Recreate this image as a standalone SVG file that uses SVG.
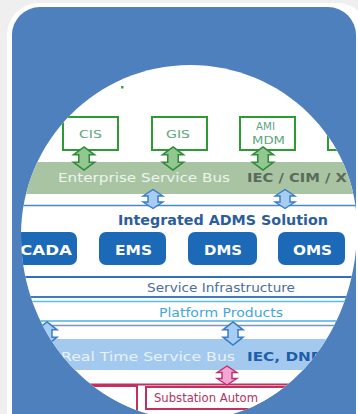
<svg xmlns="http://www.w3.org/2000/svg" width="358" height="414" viewBox="0 0 358 414">
<style>
.t{font-family:"DejaVu Sans","Liberation Sans",sans-serif}
.b{font-weight:bold}
.gbox{fill:#fff;stroke:#2e9a34;stroke-width:2}
.gtxt{fill:#5ea67e}
.bbox{fill:#1b69b7}
.btxt{fill:#fff;font-size:13.5px;font-weight:bold}
.ga{fill:#92c792;stroke:#2f8c3a;stroke-width:1.5}
.ba{fill:#a8cdf3;stroke:#3a7cc6;stroke-width:1.5}
.pa{fill:#f4a6d3;stroke:#c1306c;stroke-width:1.5}
.rbox{fill:#fff;stroke:#c2305f;stroke-width:2}
</style>
<defs>
<clipPath id="lens"><path d="M190,65 C282,65 357,138 357,228 C357,334 283,420 192,420 C97,420 21,337 21,235 C21,141 97,65 190,65 Z"/></clipPath>
<path id="dbl" d="M0,-11 L10,-3.5 L5,-3.5 L5,3.5 L10,3.5 L0,11 L-10,3.5 L-5,3.5 L-5,-3.5 L-10,-3.5 Z"/>
</defs>
<rect width="358" height="414" fill="#efefef"/>
<rect x="7" y="3" width="362" height="440" rx="32" fill="#fff"/>
<rect x="12" y="7" width="344" height="440" rx="28" fill="#4e80bd"/>
<path d="M190,65 C282,65 357,138 357,228 C357,334 283,420 192,420 C97,420 21,337 21,235 C21,141 97,65 190,65 Z" fill="#fff"/>
<g clip-path="url(#lens)">
<rect x="121" y="86" width="2.5" height="2.5" fill="#3aa63a"/>
<g id="cis"><rect class="gbox" x="63" y="117" width="55" height="33"/><text class="t gtxt" x="79" y="138" font-size="10.5" textLength="23" lengthAdjust="spacingAndGlyphs">CIS</text></g>
<g id="gis"><rect class="gbox" x="152" y="117" width="55" height="33"/><text class="t gtxt" x="166" y="138" font-size="10.5" textLength="24" lengthAdjust="spacingAndGlyphs">GIS</text></g>
<g id="ami-mdm"><rect class="gbox" x="240" y="117" width="55" height="33"/><text class="t gtxt" x="256" y="130" font-size="11" textLength="19" lengthAdjust="spacingAndGlyphs">AMI</text><text class="t gtxt" x="252" y="144" font-size="10.5" textLength="33" lengthAdjust="spacingAndGlyphs">MDM</text></g>
<g id="box4"><rect class="gbox" x="328" y="117" width="55" height="33"/></g>
<g id="esb"><rect x="0" y="162" width="358" height="32" fill="#a8c4a3"/><text class="t" x="58" y="182" font-size="12.5" fill="#eef4ec" textLength="172" lengthAdjust="spacingAndGlyphs">Enterprise Service Bus</text><text class="t b" x="247" y="182" font-size="12.5" fill="#5b6b5b" textLength="100" lengthAdjust="spacingAndGlyphs">IEC / CIM / X</text></g>
<g id="adms"><text class="t b" x="118" y="225" font-size="13.5" fill="#2d5d9c" textLength="210" lengthAdjust="spacingAndGlyphs">Integrated ADMS Solution</text></g>
<g id="scada"><rect class="bbox" x="5" y="232" width="72" height="33" rx="7"/><text class="t btxt" x="8" y="255" textLength="64" lengthAdjust="spacingAndGlyphs">SCADA</text></g>
<g id="ems"><rect class="bbox" x="99" y="232" width="67" height="33" rx="7"/><text class="t btxt" x="115" y="255" textLength="37" lengthAdjust="spacingAndGlyphs">EMS</text></g>
<g id="dms"><rect class="bbox" x="188" y="232" width="69" height="33" rx="7"/><text class="t btxt" x="204" y="255" textLength="38" lengthAdjust="spacingAndGlyphs">DMS</text></g>
<g id="oms"><rect class="bbox" x="278" y="232" width="67" height="33" rx="7"/><text class="t btxt" x="293" y="255" textLength="39" lengthAdjust="spacingAndGlyphs">OMS</text></g>
<g id="service-infra"><text class="t" x="147" y="292" font-size="13" fill="#4b6ea0" textLength="148" lengthAdjust="spacingAndGlyphs">Service Infrastructure</text></g>
<g id="platform"><text class="t" x="159" y="317" font-size="12.5" fill="#42a6de" textLength="124" lengthAdjust="spacingAndGlyphs">Platform Products</text></g>
<g id="rtsb"><rect x="0" y="339" width="358" height="31" fill="#a4c9ef"/><text class="t" x="61" y="361" font-size="13" fill="#e8f1fb" textLength="174" lengthAdjust="spacingAndGlyphs">Real Time Service Bus</text><text class="t b" x="247" y="361" font-size="13" fill="#1f5ea8" textLength="75" lengthAdjust="spacingAndGlyphs">IEC, DNP</text></g>
<g id="left-box"><rect class="rbox" x="30" y="386" width="107" height="40"/></g>
<g id="substation"><rect class="rbox" x="146" y="387" width="180" height="22"/><text class="t" x="154" y="402" font-size="11.5" fill="#b5325f" textLength="104" lengthAdjust="spacingAndGlyphs">Substation Autom</text></g>
<g id="connectors">
<line x1="0" y1="205.5" x2="358" y2="205.5" stroke="#4a86c8" stroke-width="1.5"/>
<line x1="0" y1="277" x2="358" y2="277" stroke="#2f70b8" stroke-width="2"/>
<line x1="0" y1="297" x2="358" y2="297" stroke="#3a7cc0" stroke-width="2"/>
<line x1="0" y1="301.5" x2="358" y2="301.5" stroke="#5bbde0" stroke-width="1.5"/>
<line x1="0" y1="321" x2="358" y2="321" stroke="#4ab3dd" stroke-width="1.5"/>
<line x1="0" y1="325.5" x2="358" y2="325.5" stroke="#8194b4" stroke-width="1.5"/>
<line x1="0" y1="384.5" x2="300" y2="384.5" stroke="#c2305f" stroke-width="2"/>
<use href="#dbl" class="ga" transform="translate(84,158.5) scale(1.05,1.05)"/>
<use href="#dbl" class="ga" transform="translate(173,158.5) scale(1.05,1.05)"/>
<use href="#dbl" class="ga" transform="translate(263,158.5) scale(1.05,1.05)"/>
<use href="#dbl" class="ba" transform="translate(153,199) scale(1,0.86)"/>
<use href="#dbl" class="ba" transform="translate(285,199) scale(1,0.86)"/>
<use href="#dbl" class="ba" transform="translate(47,333.5) scale(1,1.05)"/>
<use href="#dbl" class="ba" transform="translate(233,333.5) scale(1,1.05)"/>
<use href="#dbl" class="pa" transform="translate(227,375.5) scale(1,0.86)"/>
</g>
</g>
</svg>
